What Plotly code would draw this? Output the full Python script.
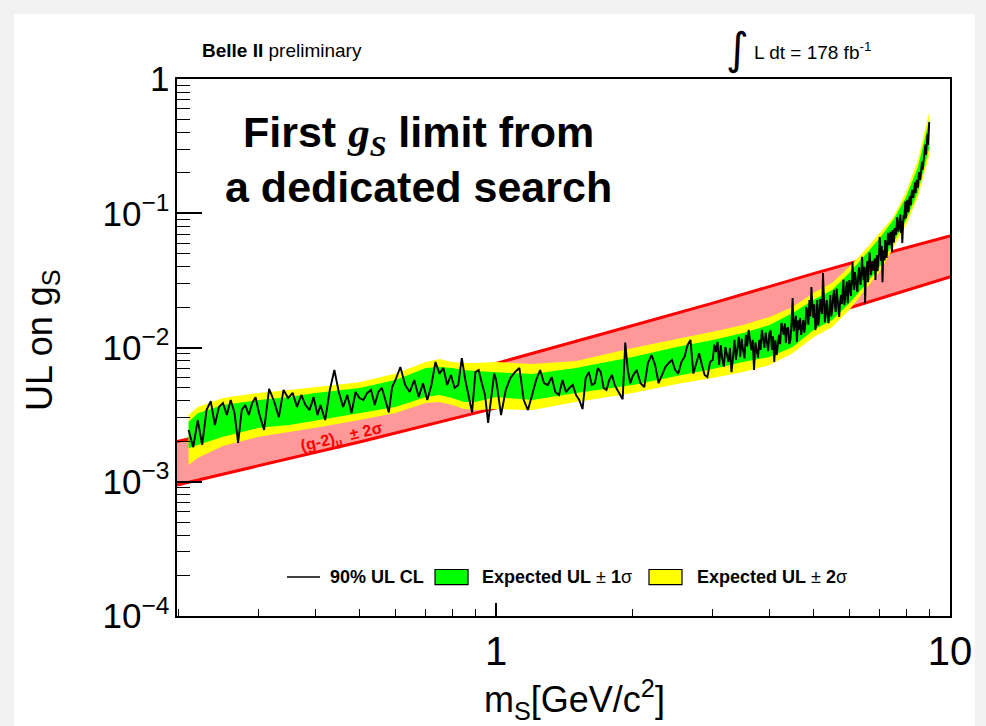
import plotly.graph_objects as go

# ---------------- data ----------------
# (g-2)_mu +-2 sigma band (red)
mass_g2 = [0.198, 0.3, 0.5, 1.0, 2.0, 3.0, 5.0, 7.0, 10.0]
g2_upper = [1.99e-3, 2.74e-3, 4.20e-3, 7.62e-3, 1.46e-2, 2.14e-2, 3.55e-2, 4.89e-2, 6.77e-2]
g2_lower = [9.46e-4, 1.31e-3, 1.98e-3, 3.55e-3, 6.71e-3, 9.86e-3, 1.63e-2, 2.30e-2, 3.35e-2]

# expected UL band
mass_band = [0.21, 0.22, 0.25, 0.30, 0.35, 0.40, 0.50, 0.60, 0.70, 0.75, 0.80, 0.85, 0.90,
             1.0, 1.2, 1.5, 2.0, 2.5, 3.0, 3.5, 4.0, 4.5, 5.0, 5.5, 6.0, 6.5, 7.0, 7.5,
             8.0, 8.5, 9.0]
exp_plus2 = [3.14e-3, 3.61e-3, 4.20e-3, 4.59e-3, 4.83e-3, 5.08e-3, 5.52e-3, 6.39e-3, 7.80e-3,
             8.20e-3, 7.80e-3, 7.67e-3, 7.67e-3, 7.80e-3, 7.54e-3, 7.94e-3, 9.92e-3, 1.159e-2,
             1.308e-2, 1.47e-2, 1.69e-2, 2.00e-2, 2.55e-2, 3.03e-2, 4.00e-2, 5.32e-2, 7.13e-2,
             9.36e-2, 0.144, 0.249, 0.568]
exp_plus1 = [2.79e-3, 3.24e-3, 3.73e-3, 4.06e-3, 4.27e-3, 4.59e-3, 5.00e-3, 5.73e-3, 7.04e-3,
             7.16e-3, 7.04e-3, 6.80e-3, 6.68e-3, 6.56e-3, 6.34e-3, 7.04e-3, 8.50e-3, 1.007e-2,
             1.137e-2, 1.28e-2, 1.47e-2, 1.81e-2, 2.26e-2, 2.68e-2, 3.60e-2, 4.89e-2, 6.54e-2,
             8.91e-2, 0.132, 0.221, 0.495]
exp_minus1 = [1.78e-3, 1.88e-3, 2.16e-3, 2.52e-3, 2.65e-3, 2.88e-3, 3.25e-3, 3.60e-3, 4.28e-3,
              4.43e-3, 4.20e-3, 3.92e-3, 3.92e-3, 4.28e-3, 4.06e-3, 4.59e-3, 5.26e-3, 6.13e-3,
              6.92e-3, 7.80e-3, 8.50e-3, 1.007e-2, 1.35e-2, 1.60e-2, 2.14e-2, 2.92e-2, 4.00e-2,
              6.01e-2, 8.91e-2, 0.144, 0.3065]
exp_minus2 = [1.33e-3, 1.50e-3, 1.85e-3, 2.16e-3, 2.36e-3, 2.52e-3, 2.88e-3, 3.25e-3, 3.86e-3,
              3.92e-3, 3.73e-3, 3.48e-3, 3.42e-3, 3.48e-3, 3.42e-3, 3.92e-3, 4.59e-3, 5.35e-3,
              5.93e-3, 6.56e-3, 7.41e-3, 9.07e-3, 1.194e-2, 1.42e-2, 1.90e-2, 2.68e-2, 3.67e-2,
              5.51e-2, 8.18e-2, 0.132, 0.2716]

# observed 90% CL upper limit (coarse scan points)
mass_obs = [
    0.210, 0.215, 0.220, 0.225, 0.230, 0.235, 0.240, 0.245, 0.250, 0.255, 0.260, 0.265, 0.270,
    0.275, 0.280, 0.285, 0.290, 0.295, 0.300,
    0.308, 0.316, 0.324, 0.332, 0.340, 0.348, 0.356, 0.364, 0.372, 0.380, 0.388, 0.396, 0.404,
    0.41, 0.42, 0.43, 0.44, 0.45, 0.46, 0.47, 0.48, 0.49, 0.50, 0.51, 0.52, 0.53, 0.54, 0.55,
    0.56, 0.57, 0.58, 0.59, 0.60,
    0.615, 0.630, 0.645, 0.660, 0.675, 0.690, 0.705, 0.720, 0.735, 0.750, 0.765, 0.780, 0.795,
    0.810, 0.825, 0.840, 0.855, 0.870, 0.885, 0.900, 0.915, 0.930, 0.945, 0.960, 0.975, 0.990,
    1.000, 1.025, 1.050, 1.075, 1.100, 1.125, 1.150, 1.175, 1.200, 1.225, 1.250, 1.275, 1.300,
    1.325, 1.350, 1.375, 1.400, 1.425, 1.450, 1.475, 1.500, 1.525, 1.550, 1.575, 1.600, 1.625,
    1.650, 1.675, 1.700, 1.725, 1.750, 1.775, 1.800, 1.825, 1.850, 1.875, 1.900, 1.925, 1.950,
    1.975, 2.000,
    2.04, 2.08, 2.12, 2.16, 2.20, 2.24, 2.28, 2.32, 2.36, 2.40, 2.44, 2.48, 2.52, 2.56, 2.60,
    2.64, 2.68, 2.72, 2.76, 2.80, 2.84, 2.88, 2.92, 2.96, 3.00,
    3.05, 3.10, 3.15, 3.20, 3.25, 3.30, 3.35, 3.40, 3.45, 3.50, 3.55, 3.60, 3.65, 3.70, 3.75,
    3.80, 3.85, 3.90, 3.95, 4.00, 4.05, 4.10, 4.15, 4.20, 4.25, 4.30, 4.35, 4.40, 4.45, 4.50,
    4.55, 4.60, 4.65, 4.70, 4.75, 4.80, 4.85, 4.90, 4.95, 5.00,
    5.05, 5.10, 5.15, 5.20, 5.25, 5.30, 5.35, 5.40, 5.45, 5.50, 5.55, 5.60, 5.65, 5.70, 5.75,
    5.80, 5.85, 5.90, 5.95, 6.00, 6.05, 6.10, 6.15, 6.20, 6.25, 6.30, 6.35, 6.40, 6.45, 6.50,
    6.55, 6.60, 6.65, 6.70, 6.75, 6.80, 6.85, 6.90, 6.95, 7.00, 7.05, 7.10, 7.15, 7.20, 7.25,
    7.30, 7.35, 7.40, 7.45, 7.50, 7.55, 7.60, 7.65, 7.70, 7.75, 7.80, 7.85, 7.90, 7.95, 8.00,
    8.05, 8.10, 8.15, 8.20, 8.25, 8.30, 8.35, 8.40, 8.45, 8.50, 8.55, 8.60, 8.65, 8.70, 8.75,
    8.80, 8.85, 8.90, 8.95, 9.00]
ul_obs = [
    2.43e-3, 1.81e-3, 2.88e-3, 1.88e-3, 3.42e-3, 3.98e-3, 2.65e-3, 3.61e-3, 3.86e-3, 3.14e-3,
    4.06e-3, 3.28e-3, 1.95e-3, 3.42e-3, 3.73e-3, 3.14e-3, 3.86e-3, 4.27e-3, 3.28e-3,
    2.43e-3, 4.91e-3, 3.98e-3, 3.03e-3, 4.83e-3, 4.20e-3, 4.59e-3, 3.61e-3, 4.43e-3, 3.73e-3,
    3.42e-3, 4.27e-3, 3.14e-3,
    3.73e-3, 2.88e-3, 4.83e-3, 6.80e-3, 4.66e-3, 3.61e-3, 4.43e-3, 3.25e-3, 4.66e-3, 4.20e-3,
    4.06e-3, 4.59e-3, 4.83e-3, 3.73e-3, 4.66e-3, 5.00e-3, 4.06e-3, 3.28e-3, 5.08e-3, 5.73e-3,
    7.16e-3, 5.26e-3, 4.66e-3, 5.73e-3, 4.28e-3, 5.42e-3, 4.06e-3, 5.26e-3, 7.80e-3, 6.39e-3,
    7.04e-3, 5.26e-3, 6.24e-3, 5.00e-3, 5.26e-3, 8.33e-3, 5.73e-3, 4.43e-3, 3.28e-3, 6.56e-3,
    6.80e-3, 5.42e-3, 4.43e-3, 2.74e-3, 4.43e-3, 6.39e-3,
    5.73e-3, 3.14e-3, 4.83e-3, 5.93e-3, 6.56e-3, 7.04e-3, 4.06e-3, 3.42e-3, 4.43e-3, 5.73e-3,
    6.80e-3, 5.42e-3, 5.26e-3, 6.02e-3, 4.66e-3, 4.43e-3, 5.73e-3, 4.66e-3, 5.00e-3, 5.26e-3,
    4.43e-3, 4.06e-3, 3.48e-3, 5.93e-3, 6.56e-3, 5.26e-3, 5.42e-3, 7.04e-3, 6.56e-3, 5.00e-3,
    4.83e-3, 5.73e-3, 6.24e-3, 5.26e-3, 4.83e-3, 4.43e-3, 4.12e-3, 1.09e-2, 6.80e-3, 5.42e-3,
    6.13e-3,
    6.80e-3, 5.42e-3, 5.08e-3, 7.67e-3, 8.79e-3, 7.41e-3, 5.42e-3, 6.24e-3, 7.16e-3, 7.67e-3,
    8.07e-3, 6.80e-3, 6.39e-3, 7.80e-3, 8.50e-3, 1.04e-2, 1.14e-2, 6.39e-3, 7.80e-3, 9.07e-3,
    7.41e-3, 6.24e-3, 6.02e-3, 7.80e-3, 8.07e-3,
    9.26e-3, 7.41e-3, 8.20e-3, 1.007e-2, 7.80e-3, 6.56e-3, 1.14e-2, 1.04e-2, 8.50e-3, 9.58e-3,
    1.24e-2, 1.35e-2, 9.58e-3, 6.80e-3, 9.26e-3, 1.14e-2, 1.35e-2, 9.92e-3, 1.14e-2, 1.28e-2,
    9.58e-3, 7.80e-3, 8.79e-3, 1.24e-2, 1.52e-2, 1.24e-2, 1.08e-2, 1.41e-2, 1.14e-2, 2.34e-2,
    1.47e-2, 1.10e-2, 1.35e-2, 1.24e-2, 1.60e-2, 1.47e-2, 1.84e-2, 2.26e-2, 2.82e-2, 1.66e-2,
    1.35e-2, 2.26e-2, 1.66e-2, 2.00e-2, 3.59e-2, 1.54e-2, 2.26e-2, 1.52e-2, 2.46e-2, 1.90e-2,
    2.68e-2, 1.84e-2, 2.26e-2, 1.69e-2, 2.46e-2, 2.82e-2, 2.07e-2, 2.68e-2, 2.14e-2, 3.18e-2,
    2.42e-2, 4.33e-2, 2.68e-2, 3.30e-2, 2.59e-2, 3.96e-2, 2.92e-2, 4.73e-2, 3.18e-2, 2.14e-2,
    3.78e-2, 3.06e-2, 5.09e-2, 3.47e-2, 4.41e-2, 3.78e-2, 3.18e-2, 4.89e-2, 4.12e-2, 6.66e-2,
    4.41e-2, 3.06e-2, 5.32e-2, 6.32e-2, 4.65e-2, 7.14e-2, 5.80e-2, 7.28e-2, 5.16e-2, 6.54e-2,
    7.77e-2, 6.89e-2, 9.36e-2, 7.28e-2, 8.60e-2, 7.14e-2, 6.01e-2, 9.70e-2, 0.109, 9.20e-2,
    0.126, 0.102, 0.134, 0.115, 0.149, 0.130, 0.159, 0.142, 0.177, 0.155,
    0.203, 0.177, 0.229, 0.210, 0.262, 0.296, 0.272, 0.364, 0.322, 0.477]

# observed UL, additional fine-scan points at high mass
mass_obs_fine = [
    3.025, 3.075, 3.125, 3.175, 3.225, 3.275, 3.325, 3.375, 3.425, 3.475,
    3.525, 3.575, 3.625, 3.675, 3.725, 3.775, 3.825, 3.875, 3.925, 3.975,
    4.025, 4.075, 4.125, 4.175, 4.225, 4.275, 4.325, 4.375, 4.425, 4.475,
    4.525, 4.575, 4.625, 4.675, 4.725, 4.775, 4.825, 4.875, 4.925, 4.975,
    5.025, 5.075, 5.125, 5.175, 5.225, 5.275, 5.325, 5.375, 5.425, 5.475,
    5.525, 5.575, 5.625, 5.675, 5.725, 5.775, 5.825, 5.875, 5.925, 5.975,
    6.025, 6.075, 6.125, 6.175, 6.225, 6.275, 6.325, 6.375, 6.425, 6.475,
    6.525, 6.575, 6.625, 6.675, 6.725, 6.775, 6.825, 6.875, 6.925, 6.975,
    7.025, 7.075, 7.125, 7.175, 7.225, 7.275, 7.325, 7.375, 7.425, 7.475,
    7.525, 7.575, 7.625, 7.675, 7.725, 7.775, 7.825, 7.875, 7.925, 7.975,
    8.025, 8.075, 8.125, 8.175, 8.225, 8.275, 8.325, 8.375, 8.425, 8.475,
    8.525, 8.575, 8.625, 8.675, 8.725, 8.775, 8.825, 8.875, 8.925, 8.975]
ul_obs_fine = [
    1.05e-2, 1.10e-2, 1.04e-2, 7.2e-3, 8.6e-3, 9.9e-3, 8.4e-3, 8.1e-3, 1.20e-2, 1.16e-2,
    8.3e-3, 1.02e-2, 1.18e-2, 1.14e-2, 1.09e-2, 8.4e-3, 9.6e-3, 1.18e-2, 1.29e-2, 9.4e-3,
    1.34e-2, 1.21e-2, 1.13e-2, 1.09e-2, 1.06e-2, 1.40e-2, 1.51e-2, 1.39e-2, 1.06e-2, 1.50e-2,
    1.32e-2, 1.72e-2, 1.59e-2, 1.66e-2, 1.51e-2, 1.29e-2, 2.00e-2, 1.48e-2, 1.70e-2, 2.05e-2,
    2.10e-2, 1.50e-2, 1.46e-2, 2.30e-2, 1.78e-2, 2.40e-2, 1.95e-2, 1.70e-2, 2.00e-2, 1.70e-2,
    2.35e-2, 2.05e-2, 2.75e-2, 1.98e-2, 2.18e-2, 2.10e-2, 3.20e-2, 2.38e-2, 3.10e-2, 2.50e-2,
    2.75e-2, 3.15e-2, 3.10e-2, 3.65e-2, 2.90e-2, 3.35e-2, 3.40e-2, 3.55e-2, 3.70e-2, 4.00e-2,
    3.40e-2, 4.40e-2, 4.05e-2, 4.25e-2, 4.10e-2, 3.80e-2, 4.60e-2, 4.00e-2, 3.70e-2, 5.00e-2,
    5.55e-2, 5.70e-2, 4.70e-2, 4.45e-2, 5.60e-2, 5.75e-2, 6.10e-2, 6.90e-2, 6.15e-2, 7.50e-2,
    6.05e-2, 7.05e-2, 7.90e-2, 8.20e-2, 8.05e-2, 9.80e-2, 8.80e-2, 8.40e-2, 9.00e-2, 0.122,
    0.108, 0.111, 0.117, 0.124, 0.138, 0.141, 0.145, 0.170, 0.158, 0.165,
    0.183, 0.190, 0.199, 0.242, 0.235, 0.275, 0.325, 0.330, 0.390, 0.405]

# merged observed scan, ordered in mass
obs_pairs = sorted(zip(mass_obs + mass_obs_fine, ul_obs + ul_obs_fine))
obs_x = [p[0] for p in obs_pairs]
obs_y = [p[1] for p in obs_pairs]

# legend labels
legend_labels = ["<b>90% UL CL</b>", "<b>Expected UL</b> ± <b>1</b>σ", "<b>Expected UL</b> ± <b>2</b>σ"]

# ---------------- figure ----------------
FONT = "Liberation Sans, Arial, sans-serif"
GREEN, YELLOW, PINK, RED = "#00ff00", "#ffff00", "rgb(255,153,153)", "#ff0000"
fig = go.Figure()

# (g-2) band fill and edges
fig.add_trace(go.Scatter(x=mass_g2 + mass_g2[::-1], y=g2_upper + g2_lower[::-1],
                         fill="toself", fillcolor=PINK, mode="lines",
                         line=dict(width=0), hoverinfo="skip", showlegend=False))
for yy in (g2_upper, g2_lower):
    fig.add_trace(go.Scatter(x=mass_g2, y=yy, mode="lines",
                             line=dict(color=RED, width=3), showlegend=False))

# expected bands
fig.add_trace(go.Scatter(x=mass_band + mass_band[::-1], y=exp_plus2 + exp_minus2[::-1],
                         fill="toself", fillcolor=YELLOW, mode="lines",
                         line=dict(width=0, color=YELLOW), showlegend=False,
                         name=legend_labels[2]))
fig.add_trace(go.Scatter(x=mass_band + mass_band[::-1], y=exp_plus1 + exp_minus1[::-1],
                         fill="toself", fillcolor=GREEN, mode="lines",
                         line=dict(width=0, color=GREEN), showlegend=False,
                         name=legend_labels[1]))

# observed
fig.add_trace(go.Scatter(x=obs_x, y=obs_y, mode="lines",
                         line=dict(color="black", width=1.9), showlegend=False,
                         name=legend_labels[0]))

axis_common = dict(type="log", dtick=1, showgrid=False, zeroline=False, showline=True,
                   linecolor="black", linewidth=2, mirror=True, ticks="inside",
                   tickcolor="black", tickwidth=1.5, exponentformat="power")
fig.update_xaxes(**axis_common, range=[-0.7033, 1.0], ticklen=13, ticklabelstandoff=1,
                 tickfont=dict(family=FONT, size=32, color="black"),
                 minor=dict(dtick="D1", ticks="inside", ticklen=7, tickcolor="black",
                            tickwidth=1.2, showgrid=False))
fig.update_yaxes(**axis_common, range=[-4, 0], ticklen=25, ticklabelstandoff=0,
                 tickfont=dict(family=FONT, size=28, color="black"),
                 minor=dict(dtick="D1", ticks="inside", ticklen=13, tickcolor="black",
                            tickwidth=1.2, showgrid=False))

ann = [
    dict(text="UL on g<sub>S</sub>", x=-0.1746, y=0.514, textangle=-90,
         font=dict(size=36, family=FONT, color="black")),
    dict(text="m<sub>S</sub>[GeV/c<sup>2</sup>]", x=0.5136, y=-0.156,
         font=dict(size=36, family=FONT, color="black")),
    dict(text="<b>Belle II</b> preliminary", x=0.0298, y=1.054, xanchor="left",
         font=dict(size=19, family=FONT, color="black")),
    dict(text="∫", x=0.7257, y=1.056, font=dict(size=44, family="DejaVu Sans", color="black")),
    dict(text="L dt = 178 fb<sup>-1</sup>", x=0.7439, y=1.052, xanchor="left",
         font=dict(size=19, family=FONT, color="black")),
    dict(text="<b>First <span style=\"font-family:'Liberation Serif'\"><i>g<sub>S</sub></i></span> limit from</b>",
         x=0.313, y=0.8957, font=dict(size=43, family=FONT, color="black")),
    dict(text="<b>a dedicated search</b>", x=0.313, y=0.7989,
         font=dict(size=43, family=FONT, color="black")),
    dict(text="<b>(g-2)<sub>μ</sub>  ± 2σ</b>", x=0.2135, y=0.3315, textangle=-13,
         font=dict(size=16, family=FONT, color=RED)),
    # legend texts
    dict(text=legend_labels[0], x=0.1953, y=0.0726, xanchor="left",
         font=dict(size=18, family=FONT, color="black")),
    dict(text=legend_labels[1], x=0.3920, y=0.0726, xanchor="left",
         font=dict(size=18, family=FONT, color="black")),
    dict(text=legend_labels[2], x=0.6701, y=0.0726, xanchor="left",
         font=dict(size=18, family=FONT, color="black")),
]
for a in ann:
    a.setdefault("xanchor", "center")
    a.update(xref="paper", yref="paper", showarrow=False, yanchor="middle")

shapes = [
    dict(type="rect", xref="paper", yref="paper", x0=-0.211, x1=1.032, y0=-0.3, y1=1.121,
         fillcolor="white", line=dict(width=0), layer="below"),
    # legend keys
    dict(type="line", xref="paper", yref="paper", x0=0.1423, x1=0.1850, y0=0.0726, y1=0.0726,
         line=dict(color="black", width=1.6)),
    dict(type="rect", xref="paper", yref="paper", x0=0.3338, x1=0.3765, y0=0.0586, y1=0.0866,
         fillcolor=GREEN, line=dict(color="black", width=1.2)),
    dict(type="rect", xref="paper", yref="paper", x0=0.6106, x1=0.6533, y0=0.0586, y1=0.0866,
         fillcolor=YELLOW, line=dict(color="black", width=1.2)),
]

fig.update_layout(
    width=986, height=726,
    margin=dict(l=177, r=36, t=79, b=110, pad=0),
    paper_bgcolor="#f2f2f2", plot_bgcolor="white",
    annotations=ann, shapes=shapes,
    showlegend=False,
)

fig.write_html("out.html")
